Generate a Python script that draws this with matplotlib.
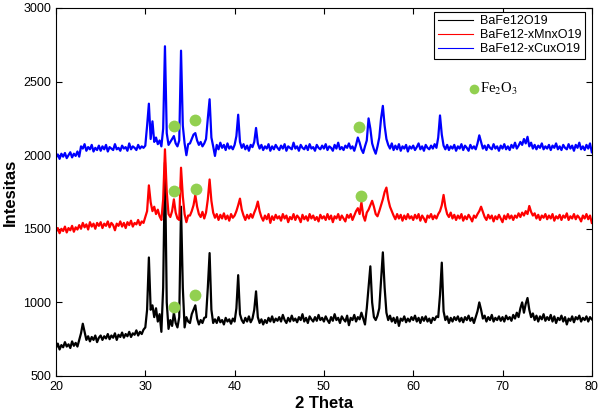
import numpy as np
import matplotlib
matplotlib.use("Agg")
import matplotlib.pyplot as plt

plt.rcParams['font.family'] = ['Liberation Sans', 'DejaVu Sans']
plt.rcParams['mathtext.fontset'] = 'stix'

two_theta = np.linspace(20, 80, 301)

bafe12o19 = [
    690, 720, 680, 710, 695, 730, 700, 715, 690, 735, 705, 725, 700, 745, 790, 855, 800, 745, 770, 735, 765, 745, 775, 730, 760,
    775, 745, 770, 755, 785, 750, 775, 760, 790, 745, 780, 765, 795, 760, 785, 770, 800, 765, 790, 780, 810, 775, 800, 785, 815,
    830, 950, 1305, 950, 980, 900, 960, 870, 920, 800, 1100, 1950, 1000, 820, 880, 840, 930, 860, 830, 900, 1650, 1100, 830, 900, 870,
    860, 920, 950, 980, 890, 850, 880, 860, 895, 900, 1100, 1335, 950, 860, 885, 860, 900, 865, 880, 850, 895, 870, 885, 855, 890,
    870, 960, 1185, 920, 880, 860, 895, 870, 905, 865, 890, 950, 1075, 900, 860, 885, 850, 880, 860, 895, 870, 905, 865, 890, 875,
    900, 870, 915, 880, 860, 895, 870, 910, 875, 890, 865, 900, 880, 920, 870, 895, 860, 905, 885, 870, 900, 875, 915, 880, 895,
    870, 905, 880, 860, 900, 875, 920, 880, 895, 860, 905, 885, 870, 910, 845, 895, 880, 915, 870, 900, 885, 930, 890, 850, 960,
    1100, 1245, 1000, 900, 880, 910, 960, 1150, 1340, 1100, 930, 880, 910, 870, 895, 860, 900, 840, 890, 875, 905, 865, 890, 870, 900,
    880, 910, 870, 895, 860, 900, 875, 905, 870, 890, 860, 895, 880, 905, 900, 1050, 1270, 940, 880, 905, 860, 895, 870, 900, 880,
    905, 870, 895, 865, 900, 880, 910, 875, 895, 860, 900, 940, 1000, 950, 890, 910, 870, 900, 880, 915, 870, 895, 880, 905, 875,
    900, 870, 910, 885, 900, 875, 915, 890, 930, 900, 960, 1000, 930, 990, 1030, 950, 900, 925, 880, 910, 870, 905, 885, 920, 875,
    900, 880, 915, 870, 905, 860, 895, 880, 910, 870, 900, 850, 890, 875, 905, 865, 900, 885, 910, 870, 895, 880, 905, 870, 900, 885,
]

bafe12_mn = [
    1480, 1505, 1470, 1500, 1485, 1515, 1475, 1505, 1490, 1520, 1480, 1510, 1495, 1525, 1500, 1540, 1510, 1530, 1495, 1545, 1515, 1535, 1500, 1540, 1520,
    1545, 1505, 1535, 1520, 1550, 1510, 1540, 1525, 1490, 1535, 1520, 1550, 1515, 1540, 1505, 1545, 1525, 1555, 1515, 1540, 1530, 1560, 1525, 1550, 1540,
    1580, 1620, 1795, 1680, 1620, 1650, 1600, 1630, 1585, 1560, 1700, 2040, 1750, 1600, 1580, 1620, 1700, 1610, 1570, 1560, 1915, 1720, 1600, 1545, 1590,
    1590, 1620, 1660, 1730, 1650, 1600, 1580, 1615, 1570, 1610, 1700, 1835, 1690, 1610, 1575, 1600, 1560, 1595, 1570, 1605, 1565, 1590, 1555, 1600, 1575,
    1590, 1620, 1660, 1705, 1630, 1590, 1560, 1595, 1570, 1600, 1575, 1610, 1640, 1685, 1620, 1580, 1555, 1590, 1565, 1600, 1540, 1585, 1560, 1595, 1570,
    1585, 1555, 1600, 1570, 1590, 1545, 1580, 1565, 1600, 1560, 1590, 1575, 1545, 1595, 1565, 1585, 1555, 1600, 1570, 1590, 1560, 1580, 1550, 1595, 1570,
    1585, 1560, 1600, 1565, 1590, 1545, 1585, 1570, 1600, 1560, 1590, 1570, 1550, 1595, 1575, 1600, 1560, 1590, 1620, 1640, 1600, 1680, 1590, 1555, 1610,
    1630, 1660, 1690, 1650, 1600, 1585, 1620, 1660, 1700, 1750, 1780, 1700, 1650, 1620, 1590, 1565, 1600, 1570, 1595, 1555, 1590, 1565, 1600, 1570, 1585,
    1560, 1595, 1570, 1600, 1555, 1590, 1570, 1545, 1590, 1575, 1600, 1565, 1590, 1570, 1600, 1620, 1660, 1730, 1650, 1600, 1580, 1610, 1570, 1595, 1560,
    1590, 1570, 1600, 1555, 1585, 1565, 1595, 1575, 1550, 1590, 1575, 1600, 1620, 1650, 1615, 1580, 1560, 1595, 1570, 1590, 1550, 1585, 1565, 1595, 1570,
    1545, 1590, 1565, 1600, 1570, 1590, 1560, 1590, 1575, 1605, 1580, 1610, 1590, 1620, 1600, 1655, 1615, 1590, 1605, 1570, 1595, 1560, 1590, 1575, 1600,
    1565, 1590, 1570, 1600, 1555, 1585, 1570, 1595, 1560, 1590, 1575, 1605, 1560, 1585, 1570, 1600, 1565, 1590, 1575, 1550, 1590, 1570, 1600, 1565, 1590, 1540,
]

bafe12_cu = [
    1985, 2005, 1975, 2010, 1990, 2015, 1980, 2000, 2020, 1985, 2010, 1995, 2025, 1990, 2060, 2045, 2075, 2030, 2055, 2040, 2070, 2025, 2050, 2035, 2065,
    2030, 2060, 2040, 2070, 2025, 2055, 2045, 2035, 2075, 2040, 2050, 2030, 2065, 2045, 2055, 2030, 2080, 2040, 2060, 2050, 2035, 2070, 2045, 2060, 2050,
    2065, 2200, 2350, 2110, 2230, 2090, 2120, 2075, 2100, 2060, 2180, 2740, 2150, 2070, 2090, 2110, 2130, 2080, 2060, 2100, 2710, 2200, 2080, 2000, 2075,
    2080, 2110, 2140, 2150, 2100, 2070, 2090, 2060, 2080, 2110, 2250, 2380, 2120, 2060, 1995, 2070, 2040, 2085, 2050, 2070, 2035, 2080, 2045, 2060, 2040,
    2070, 2130, 2275, 2090, 2050, 2075, 2040, 2065, 2030, 2070, 2055, 2090, 2185, 2080, 2045, 2070, 2035, 2060, 2045, 2075, 2030, 2060, 2040, 2070, 2050,
    2035, 2065, 2045, 2075, 2030, 2060, 2050, 2040, 2085, 2045, 2060, 2030, 2070, 2050, 2040, 2065, 2035, 2075, 2045, 2055, 2030, 2070, 2050, 2040, 2065,
    2045, 2075, 2035, 2060, 2050, 2030, 2070, 2045, 2085, 2040, 2055, 2035, 2065, 2050, 2080, 2045, 2060, 2030, 2070, 2120, 2085, 2040, 2015, 2060, 2100,
    2250, 2180, 2080, 2040, 2010, 2060, 2120, 2250, 2335, 2200, 2110, 2070, 2045, 2080, 2035, 2065, 2040, 2075, 2030, 2060, 2045, 2070, 2025, 2060, 2045,
    2065, 2035, 2055, 2080, 2040, 2060, 2030, 2070, 2050, 2040, 2065, 2045, 2075, 2050, 2120, 2270, 2140, 2065, 2040, 2070, 2035, 2060, 2045, 2070, 2030,
    2060, 2045, 2075, 2035, 2065, 2050, 2030, 2070, 2045, 2060, 2040, 2080, 2135, 2090, 2045, 2065, 2035, 2070, 2050, 2040, 2075, 2045, 2060, 2030, 2065,
    2045, 2075, 2040, 2060, 2035, 2070, 2050, 2085, 2045, 2065, 2090, 2070, 2110, 2080, 2125, 2060, 2085, 2045, 2070, 2040, 2065, 2050, 2080, 2040, 2060,
    2045, 2070, 2035, 2065, 2050, 2080, 2040, 2060, 2035, 2070, 2050, 2040, 2075, 2045, 2065, 2030, 2070, 2050, 2085, 2040, 2060, 2035, 2070, 2045, 2080, 2020,
]

series_labels = ["BaFe12O19", "BaFe12-xMnxO19", "BaFe12-xCuxO19"]
series_colors = ["#000000", "#FF0000", "#0000FF"]

fe2o3_x = [33.2, 35.6, 53.9, 33.2, 35.7, 54.2, 33.2, 35.6]
fe2o3_y = [2199, 2237, 2190, 1757, 1771, 1724, 968, 1049]
fe2o3_legend_xy = (66.8, 2452)
fe2o3_label = "Fe$_2$O$_3$"

fig = plt.figure(figsize=(5.99, 4.12), dpi=100)
ax = fig.add_axes([0.0935, 0.0874, 0.8945, 0.8932])

for ys, lab, col in zip([bafe12o19, bafe12_mn, bafe12_cu], series_labels, series_colors):
    ax.plot(two_theta, ys, color=col, lw=1.6, label=lab)

green = "#92D050"
ax.plot(fe2o3_x, fe2o3_y, 'o', color=green, ms=8.5, mec='none', zorder=5)
ax.plot([fe2o3_legend_xy[0]], [fe2o3_legend_xy[1]], 'o', color=green, ms=7, mec='none', zorder=5)
ax.text(fe2o3_legend_xy[0] + 0.7, fe2o3_legend_xy[1], fe2o3_label, family='Liberation Serif',
        fontsize=10.5, va='center', ha='left')

ax.set_xlim(20, 80)
ax.set_ylim(500, 3000)
ax.set_xticks(range(20, 81, 10))
ax.set_yticks(range(500, 3001, 500))
ax.tick_params(direction='in', top=True, right=True, labelsize=9, length=4)
ax.set_xlabel("2 Theta", fontsize=12, fontweight='bold', labelpad=2)
ax.set_ylabel("Intesitas", fontsize=12, fontweight='bold', labelpad=4)

leg = ax.legend(loc='upper right', bbox_to_anchor=(0.988, 0.99), borderaxespad=0,
                fontsize=9, fancybox=False, edgecolor='black', framealpha=1,
                handlelength=2.8, borderpad=0.3, labelspacing=0.15, handletextpad=0.6)
for line in leg.get_lines():
    line.set_linewidth(0.8)
leg.get_frame().set_linewidth(0.8)

fig.savefig("out.png", dpi=100)
